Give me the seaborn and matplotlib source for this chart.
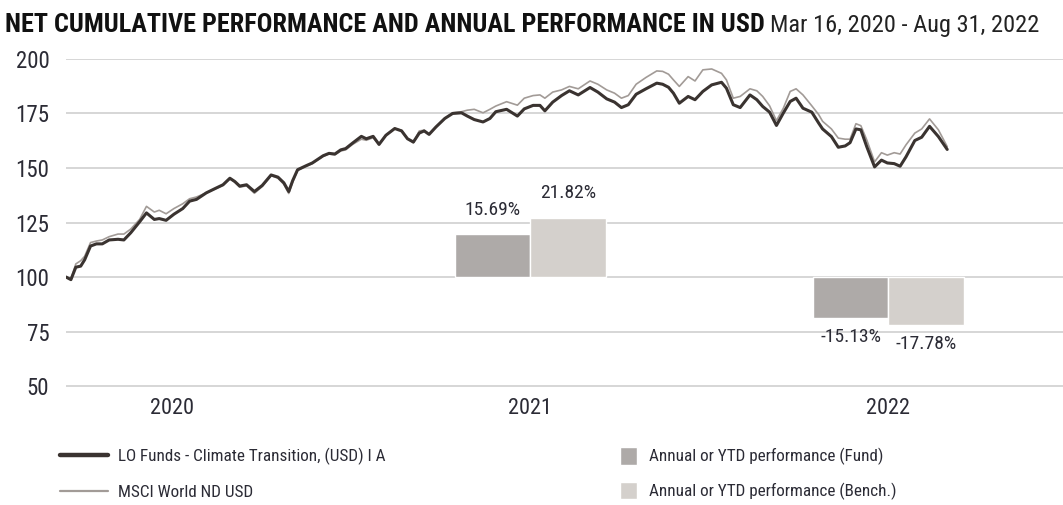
import pandas as pd
import numpy as np
import matplotlib
matplotlib.use("Agg")
import matplotlib.pyplot as plt
import matplotlib.dates as mdates
from matplotlib.lines import Line2D
from matplotlib.patches import Patch
import seaborn as sns

# --- data ---
start_date = "2020-03-16"
# days after start date for each reading
day_offsets = [0, 5, 10, 15, 19, 25, 31, 37, 44, 53, 59, 66, 75, 82, 90, 95, 102, 110, 119, 126,
               133, 143, 153, 160, 167, 172, 177, 184, 192, 200, 209, 216, 222, 227, 231, 236, 245,
               251, 262, 268, 274, 280, 285, 292, 301, 306, 313, 319, 326, 335, 342, 348, 354, 360,
               365, 370, 377, 386, 394, 403, 409, 416, 425, 432, 438, 449, 460, 467, 476, 483, 488,
               496, 505, 513, 522, 534, 542, 551, 559, 566, 573, 581, 591, 602, 608, 614, 619, 625,
               634, 641, 649, 658, 668, 673, 680, 687, 697, 704, 710, 717, 724, 731, 738, 744, 751,
               760, 767, 771, 780, 787, 794, 799, 805, 810, 816, 824, 831, 837, 844, 850, 856, 865,
               872, 880, 889, 898]
fund_nav = [100.0, 98.8, 104.5, 105.0, 107.9, 114.2, 115.2, 115.2, 117.0, 117.3, 117.0, 120.3, 125.3,
            129.4, 126.4, 126.8, 126.0, 128.8, 131.4, 134.8, 135.6, 138.6, 140.8, 142.3, 145.3, 143.8,
            141.7, 142.3, 139.2, 142.0, 146.8, 145.8, 143.2, 139.2, 144.2, 149.2, 151.1, 152.3, 155.6,
            156.7, 156.4, 158.3, 158.9, 161.4, 164.5, 163.4, 164.5, 160.8, 165.0, 168.1, 167.0, 163.4,
            161.9, 166.0, 167.0, 165.4, 168.8, 172.7, 175.0, 175.3, 173.8, 172.2, 171.1, 172.7, 175.8,
            176.9, 173.8, 177.1, 178.7, 178.7, 176.2, 180.2, 183.2, 185.4, 183.5, 186.9, 184.8, 181.7,
            180.2, 177.7, 179.0, 183.8, 186.3, 188.9, 188.4, 187.0, 184.3, 179.7, 182.8, 181.3, 185.1,
            188.1, 189.3, 186.6, 179.0, 177.7, 183.5, 181.3, 178.2, 175.6, 169.5, 175.2, 180.5, 182.0,
            177.4, 175.6, 170.6, 167.9, 164.4, 159.5, 160.1, 161.6, 167.9, 167.5, 159.8, 150.5, 153.6,
            152.3, 152.0, 150.8, 155.1, 162.6, 164.1, 169.1, 164.4, 158.5]
bench_nav = [100.0, 99.0, 106.0, 107.5, 109.5, 115.8, 116.5, 117.0, 118.5, 119.7, 119.7, 122.0, 126.4,
             132.4, 129.8, 130.6, 129.0, 131.4, 133.6, 135.9, 136.7, 138.6, 140.6, 142.0, 145.0, 143.5,
             141.2, 141.8, 138.4, 141.5, 146.5, 145.3, 142.5, 138.3, 143.5, 148.8, 150.8, 152.0, 155.3,
             156.4, 156.0, 157.8, 158.3, 160.8, 163.2, 162.7, 163.9, 160.8, 165.0, 168.1, 167.3, 163.4,
             161.5, 167.0, 167.3, 165.4, 168.8, 172.7, 175.3, 175.8, 176.5, 176.9, 175.3, 176.9, 178.4,
             180.4, 178.8, 182.0, 183.2, 183.5, 182.0, 184.8, 185.8, 187.4, 186.3, 189.9, 188.4, 185.8,
             184.3, 182.0, 183.2, 188.4, 191.5, 194.5, 194.3, 193.0, 190.4, 187.4, 191.9, 189.9, 195.0,
             195.4, 193.4, 190.4, 182.0, 182.8, 186.3, 185.4, 182.8, 178.5, 171.7, 177.4, 185.1, 186.3,
             183.5, 178.5, 174.5, 171.4, 167.9, 163.7, 163.2, 163.2, 170.3, 169.4, 162.9, 152.8, 157.0,
             155.9, 157.0, 156.4, 160.6, 166.0, 167.9, 172.5, 167.5, 159.8]

bar_years = [2021, 2022]
annual_fund = [15.69, -15.13]
annual_bench = [21.82, -17.78]

fund_name = "LO Funds - Climate Transition, (USD) I A"
bench_name = "MSCI World ND USD"
bar_fund_name = "Annual or YTD performance (Fund)"
bar_bench_name = "Annual or YTD performance (Bench.)"

# --- colours ---
c_fund = "#3a3330"
c_bench = "#a29b97"
c_bar_fund = "#aeaaa8"
c_bar_bench = "#d4d0cc"
c_grid = "#cbcbcb"
c_text = "#2b2b35"

sns.set_theme(style="white")
plt.rcParams["font.family"] = ["Roboto Condensed", "Liberation Sans Narrow", "Liberation Sans", "DejaVu Sans"]


def fit_width(fig, text, target_px):
    # shrink/grow a text so it covers about the same width as in the reference
    fig.canvas.draw()
    w = text.get_window_extent().width
    text.set_fontsize(text.get_fontsize() * target_px / w)


start = pd.Timestamp(start_date)
df = pd.DataFrame({
    "date": start + pd.to_timedelta(day_offsets, unit="D"),
    "fund": fund_nav,
    "bench": bench_nav,
})

fig = plt.figure(figsize=(10.63, 5.05), dpi=100)
ax = fig.add_axes([66 / 1063, 1 - 386.5 / 505, 1 - 66 / 1063, (386.5 - 58.5) / 505])

sns.lineplot(data=df, x="date", y="bench", color=c_bench, linewidth=1.2, ax=ax, zorder=3)
sns.lineplot(data=df, x="date", y="fund", color=c_fund, linewidth=2.2, ax=ax, zorder=4)

ylo, yhi = 49.8, 200.2
ax.set_ylim(ylo, yhi)
ax.set_xlim(start, start + pd.Timedelta(days=1016))
ax.set_yticks([50, 75, 100, 125, 150, 175, 200])
ax.grid(axis="y", color=c_grid, linewidth=1.1)
ax.grid(axis="x", visible=False)
for s in ax.spines.values():
    s.set_visible(False)
ax.set_xlabel("")
ax.set_ylabel("")
ax.tick_params(axis="y", length=0, pad=12, labelsize=16.5, labelcolor=c_text)

# year ticks: separators on Jan 1, labels mid-year
ax.xaxis.set_major_locator(mdates.YearLocator())
ax.xaxis.set_major_formatter(plt.NullFormatter())
ax.xaxis.set_minor_locator(mdates.MonthLocator(bymonth=7, bymonthday=2))
ax.xaxis.set_minor_formatter(mdates.DateFormatter("%Y"))
ax.tick_params(axis="x", which="major", length=7, width=0.9, color="#555555", direction="out")
ax.tick_params(axis="x", which="minor", length=0, pad=8, labelsize=16, labelcolor=c_text)

# annual bars on a twin scale (0% sits on the 100 line)
ax2 = ax.twinx()
ax2.set_ylim((ylo - 100) / 1.25, (yhi - 100) / 1.25)
ax2.set_yticks([])
for s in ax2.spines.values():
    s.set_visible(False)
ax2.grid(False)

bar_w = 77
mid = mdates.date2num([pd.Timestamp(f"{y}-07-02") for y in bar_years])
ax2.bar(mid - bar_w / 2, annual_fund, width=bar_w, color=c_bar_fund, zorder=2)
ax2.bar(mid + bar_w / 2, annual_bench, width=bar_w, color=c_bar_bench, zorder=2)
for xs, vals in [(mid - bar_w / 2, annual_fund), (mid + bar_w / 2, annual_bench)]:
    for x, v in zip(xs, vals):
        ax2.annotate(f"{v:.2f}%", xy=(x, v), xytext=(0, 11 if v > 0 else -7),
                     textcoords="offset points", ha="center",
                     va="bottom" if v > 0 else "top", fontsize=14, color=c_text)

# title
t1 = fig.text(5 / 1063, 1 - 32 / 505, "NET CUMULATIVE PERFORMANCE AND ANNUAL PERFORMANCE IN USD",
              fontsize=18, fontweight="bold", color="#111111", va="baseline")
fit_width(fig, t1, 760)
t2 = ax.annotate("Mar 16, 2020 - Aug 31, 2022", xy=(1, 0), xycoords=t1, xytext=(4, 0),
                 textcoords="offset points", fontsize=16, color="#222222", va="bottom",
                 annotation_clip=False)
fit_width(fig, t2, 270)

# legends
line_handles = [Line2D([], [], color=c_fund, lw=3.2), Line2D([], [], color=c_bench, lw=1.6)]
leg1 = fig.legend(line_handles, [fund_name, bench_name], loc="upper left",
                  bbox_to_anchor=(60 / 1063, 1 - 448 / 505), frameon=False, fontsize=12,
                  borderpad=0, borderaxespad=0)
fig.canvas.draw()
w = leg1.get_texts()[0].get_window_extent().width
leg_fs = 12 * 267 / w
leg1.remove()
em = leg_fs * 100 / 72
fig.legend(line_handles, [fund_name, bench_name], loc="upper left",
           bbox_to_anchor=(60 / 1063, 1 - 448 / 505), frameon=False, fontsize=leg_fs,
           handlelength=48 / em, handletextpad=10 / em,
           labelspacing=(37 - em) / em, borderpad=0,
           borderaxespad=0, labelcolor=c_text)
patch_handles = [Patch(facecolor=c_bar_fund), Patch(facecolor=c_bar_bench)]
fig.legend(patch_handles, [bar_fund_name, bar_bench_name], loc="upper left",
           bbox_to_anchor=(620 / 1063, 1 - 447 / 505), frameon=False, fontsize=leg_fs,
           handlelength=17 / em, handleheight=1.2, handletextpad=12 / em,
           labelspacing=(37 - em * 1.2) / em, borderpad=0,
           borderaxespad=0, labelcolor=c_text)

fig.savefig("out.png", dpi=100)
